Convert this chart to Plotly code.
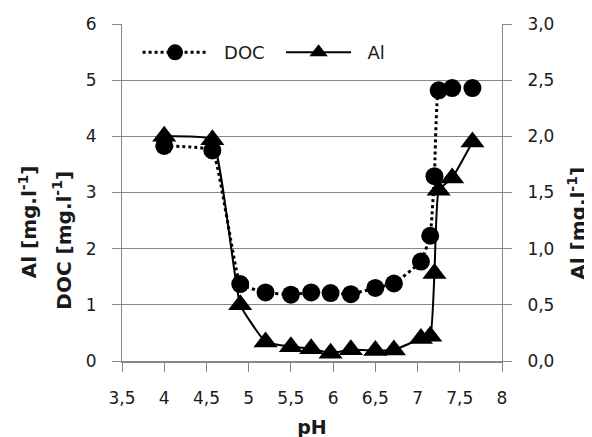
import plotly.graph_objects as go

ph = [4.0, 4.57, 4.9, 5.2, 5.5, 5.74, 5.97, 6.21, 6.5, 6.72, 7.04, 7.15, 7.2, 7.25, 7.41, 7.65]
doc = [3.83, 3.75, 1.37, 1.22, 1.18, 1.22, 1.21, 1.19, 1.30, 1.38, 1.77, 2.23, 3.29, 4.82, 4.86, 4.86]
al = [2.0, 1.97, 0.5, 0.17, 0.127, 0.11, 0.07, 0.10, 0.094, 0.098, 0.2, 0.22, 0.78, 1.52, 1.63, 1.95]

x_ticks = [3.5, 4, 4.5, 5, 5.5, 6, 6.5, 7, 7.5, 8]
y_ticks = [0, 1, 2, 3, 4, 5, 6]
y2_ticks = [0, 0.5, 1.0, 1.5, 2.0, 2.5, 3.0]

FONT = "DejaVu Sans"
GRID = "#868686"
TXT = "#1a1a1a"
NB = "\u00a0"

fig = go.Figure()
fig.add_trace(go.Scatter(
    x=ph, y=doc, name=NB * 2 + "DOC" + NB * 2, mode="lines+markers",
    line=dict(color="black", width=3, dash="dot", shape="spline", smoothing=0.3),
    marker=dict(symbol="circle", size=18, color="black"),
    yaxis="y"))
fig.add_trace(go.Scatter(
    x=ph, y=al, name=NB * 2 + "Al", mode="lines+markers",
    line=dict(color="black", width=2, shape="spline", smoothing=0.35),
    marker=dict(symbol="triangle-up", size=21, color="black"),
    yaxis="y2"))

fig.update_layout(
    width=592, height=437,
    margin=dict(l=114, r=98, t=16, b=84, autoexpand=False),
    paper_bgcolor="white", plot_bgcolor="white",
    separators=", ",
    font=dict(family=FONT, size=17, color=TXT),
    showlegend=True,
    legend=dict(orientation="h", x=0.041, y=0.915, xanchor="left", yanchor="middle",
                bgcolor="rgba(0,0,0,0)", font=dict(size=18, color=TXT),
                itemwidth=65),
    xaxis=dict(range=[3.5, 8], tickvals=x_ticks, showgrid=False, automargin=False,
               showline=True, linecolor=GRID, linewidth=1.5,
               ticks="outside", ticklen=9, tickcolor=GRID, zeroline=False,
               ticklabelstandoff=12,
               title=dict(text="<b>pH</b>", font=dict(size=19, color=TXT), standoff=14)),
    yaxis=dict(range=[0, 6], tickvals=y_ticks, showgrid=True, gridcolor=GRID, gridwidth=1,
               showline=True, linecolor=GRID, linewidth=1, automargin=False,
               ticks="outside", ticklen=9, tickcolor=GRID, zeroline=False,
               ticklabelstandoff=12),
    yaxis2=dict(range=[0, 3], tickvals=y2_ticks, tickformat=".1f", overlaying="y", side="right",
                showgrid=False, showline=True, linecolor=GRID, linewidth=1, automargin=False,
                ticks="outside", ticklen=9, tickcolor=GRID, zeroline=False,
                ticklabelstandoff=12),
)

fig.add_annotation(text="<b>Al [mg.l<sup>-1</sup>]</b>", xref="paper", yref="paper",
                   x=-0.247, y=0.412, xanchor="center", yanchor="middle", textangle=-90,
                   showarrow=False, font=dict(size=20, color=TXT))
fig.add_annotation(text="<b>DOC [mg.l<sup>-1</sup>]</b>", xref="paper", yref="paper",
                   x=-0.158, y=0.36, xanchor="center", yanchor="middle", textangle=-90,
                   showarrow=False, font=dict(size=20, color=TXT))
fig.add_annotation(text="<b>Al [mg.l<sup>-1</sup>]</b>", xref="paper", yref="paper",
                   x=1.197, y=0.41, xanchor="center", yanchor="middle", textangle=-90,
                   showarrow=False, font=dict(size=20, color=TXT))

fig.write_html("out.html")
